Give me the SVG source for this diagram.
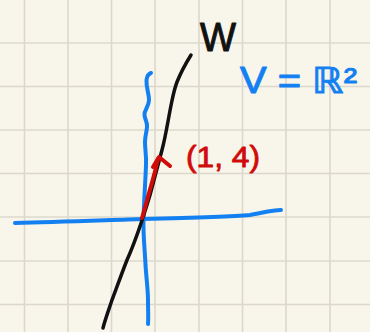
<svg xmlns="http://www.w3.org/2000/svg" width="370" height="332" viewBox="0 0 370 332">
<style>
.grid{stroke:#dcd8cc;stroke-width:1.6}
.ink{fill:none;stroke-linecap:round;stroke-linejoin:round}
.blue{stroke:#1380f2;stroke-width:4}
.black{stroke:#111;stroke-width:3.5}
.red{stroke:#d10a0a;stroke-width:4}
.lbl{font-family:"Liberation Sans","DejaVu Sans",sans-serif;stroke-linejoin:round}
</style>
<rect width="370" height="332" fill="#f8f5ea"/>
<g id="grid">
<line class="grid" x1="24.5" y1="0" x2="24.5" y2="332"/>
<line class="grid" x1="68" y1="0" x2="68" y2="332"/>
<line class="grid" x1="111.5" y1="0" x2="111.5" y2="332"/>
<line class="grid" x1="155" y1="0" x2="155" y2="332"/>
<line class="grid" x1="199" y1="0" x2="199" y2="332"/>
<line class="grid" x1="242.5" y1="0" x2="242.5" y2="332"/>
<line class="grid" x1="286" y1="0" x2="286" y2="332"/>
<line class="grid" x1="330" y1="0" x2="330" y2="332"/>
<line class="grid" x1="0" y1="43" x2="370" y2="43"/>
<line class="grid" x1="0" y1="86.5" x2="370" y2="86.5"/>
<line class="grid" x1="0" y1="130" x2="370" y2="130"/>
<line class="grid" x1="0" y1="173.5" x2="370" y2="173.5"/>
<line class="grid" x1="0" y1="217" x2="370" y2="217"/>
<line class="grid" x1="0" y1="261" x2="370" y2="261"/>
<line class="grid" x1="0" y1="304.5" x2="370" y2="304.5"/>
</g>
<g id="connectors">
<path id="x-axis" class="ink blue" d="M15,223 C60,222 110,220 143,219 C190,218 230,217 250,215 C262,213 272,210 281,210"/>
<path id="y-axis" class="ink blue" d="M151,73 C148,74 147,76 146.5,80 C146,88 149,93 149,100 C149,107 144,110 144.5,115 C145,120 147.5,122 147,127 C146.5,133 145,136 145,142 C145,150 146.5,155 146,165 C145.5,180 144,200 143.5,219 C143,235 145,252 145.5,265 C146.5,280 148,290 148,300 C148,310 148.5,318 148,324"/>
<path id="line-w" class="ink black" d="M191,55 C186,63 181,72 177,82 C174,90 173,96 171.5,103 C168,120 166,135 162,150 C158,165 154,180 150,195 C144,215 136,240 127,260 C120,278 114,295 112,300 C108,312 105,320 103,328"/>
<path id="vector" class="ink red" d="M142,218 C146,205 148,196 151,186 C154,176 156,168 158,159"/>
<path id="arrowhead" class="ink red" d="M153,167 L159,157 L170,166"/>
</g>
<g id="label-w">
<text class="lbl" x="200" y="51" font-size="40" textLength="36" lengthAdjust="spacingAndGlyphs" fill="#111" stroke="#111" stroke-width="1">W</text>
</g>
<g id="label-v">
<text class="lbl" x="240" y="93" font-size="36" textLength="117" lengthAdjust="spacingAndGlyphs" fill="#1380f2" stroke="#1380f2" stroke-width="1" font-family="DejaVu Sans, sans-serif">V = ℝ²</text>
</g>
<g id="label-vector">
<text class="lbl" x="186" y="167" font-size="30" textLength="74" lengthAdjust="spacingAndGlyphs" fill="#d10a0a" stroke="#d10a0a" stroke-width="0.8">(1, 4)</text>
</g>
</svg>
